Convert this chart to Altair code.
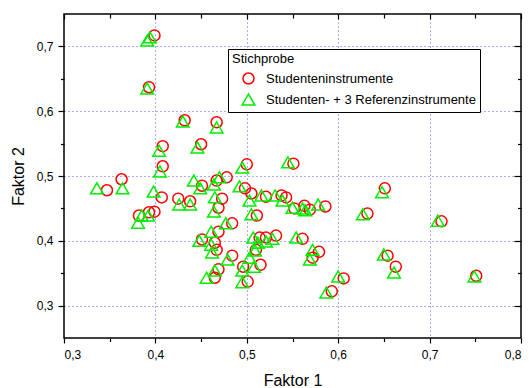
import altair as alt
import pandas as pd

series_names = ["Studenteninstrumente", "Studenten- + 3 Referenzinstrumente"]
series_colors = ["#ff0000", "#00ee00"]
series_shapes = ["circle", "triangle-up"]

circ_x = [0.399, 0.393, 0.432, 0.467, 0.408, 0.450, 0.500, 0.551, 0.408, 0.363,
          0.347, 0.407, 0.425, 0.438, 0.382, 0.393, 0.399, 0.478, 0.467, 0.451,
          0.498, 0.505, 0.521, 0.538, 0.543, 0.473, 0.469, 0.552, 0.563, 0.569,
          0.586, 0.651, 0.632, 0.713, 0.511, 0.484, 0.469, 0.451, 0.465, 0.467,
          0.484, 0.469, 0.465, 0.514, 0.521, 0.532, 0.561, 0.579, 0.572, 0.510,
          0.515, 0.496, 0.501, 0.654, 0.663, 0.606, 0.593, 0.751]
circ_y = [0.717, 0.637, 0.586, 0.583, 0.546, 0.549, 0.518, 0.519, 0.515, 0.495,
          0.478, 0.467, 0.465, 0.461, 0.439, 0.444, 0.445, 0.498, 0.493, 0.485,
          0.481, 0.473, 0.468, 0.470, 0.467, 0.465, 0.451, 0.450, 0.454, 0.448,
          0.453, 0.481, 0.442, 0.430, 0.439, 0.427, 0.414, 0.402, 0.397, 0.386,
          0.377, 0.356, 0.343, 0.405, 0.405, 0.408, 0.403, 0.383, 0.374, 0.386,
          0.363, 0.360, 0.337, 0.377, 0.360, 0.342, 0.322, 0.346]

tri_x = [0.391, 0.394, 0.391, 0.430, 0.467, 0.404, 0.446, 0.495, 0.545, 0.405,
         0.364, 0.336, 0.398, 0.426, 0.438, 0.385, 0.392, 0.381, 0.470, 0.464,
         0.442, 0.449, 0.492, 0.503, 0.516, 0.531, 0.539, 0.465, 0.464, 0.550,
         0.561, 0.564, 0.578, 0.648, 0.627, 0.709, 0.505, 0.477, 0.461, 0.448,
         0.461, 0.462, 0.479, 0.465, 0.456, 0.507, 0.512, 0.521, 0.528, 0.554,
         0.572, 0.569, 0.509, 0.503, 0.508, 0.495, 0.495, 0.650, 0.661, 0.600,
         0.587, 0.749]
tri_y = [0.709, 0.714, 0.635, 0.584, 0.575, 0.539, 0.544, 0.513, 0.521, 0.507,
         0.481, 0.481, 0.476, 0.456, 0.456, 0.439, 0.439, 0.428, 0.498, 0.487,
         0.493, 0.481, 0.484, 0.462, 0.470, 0.470, 0.462, 0.467, 0.445, 0.451,
         0.450, 0.447, 0.456, 0.475, 0.441, 0.431, 0.441, 0.427, 0.414, 0.400,
         0.394, 0.382, 0.371, 0.354, 0.343, 0.405, 0.397, 0.399, 0.403, 0.405,
         0.386, 0.371, 0.385, 0.374, 0.360, 0.354, 0.336, 0.379, 0.351, 0.345,
         0.320, 0.345]

x_major = [0.3, 0.4, 0.5, 0.6, 0.7, 0.8]
x_minor = [0.35, 0.45, 0.55, 0.65, 0.75]
x_grid = [0.4, 0.5, 0.6, 0.7]
y_major = [0.3, 0.4, 0.5, 0.6, 0.7]
y_minor = [0.35, 0.45, 0.55, 0.65]
y_grid = [0.3, 0.4, 0.5, 0.6, 0.7]

df = pd.concat([
    pd.DataFrame({"x": circ_x, "y": circ_y, "series": series_names[0]}),
    pd.DataFrame({"x": tri_x, "y": tri_y, "series": series_names[1]}),
], ignore_index=True)

xs = alt.Scale(domain=[0.3, 0.8], nice=False, zero=False)
ys = alt.Scale(domain=[0.25, 0.75], nice=False, zero=False)
comma = "replace(format(datum.value, '.1f'), '.', ',')"

W, H = 457, 324


def ax(**kw):
    base = dict(domain=False, grid=False, labels=False, title=None,
                tickColor="black", tickWidth=1.2)
    base.update(kw)
    return alt.Axis(**base)


def layer(xaxis, yaxis):
    return alt.Chart(df).mark_point(opacity=0).encode(
        x=alt.X("x:Q", scale=xs, axis=xaxis),
        y=alt.Y("y:Q", scale=ys, axis=yaxis),
    )


grid_layer = layer(
    ax(orient="bottom", values=x_grid, ticks=False, grid=True,
       gridColor="#2020ff", gridDash=[1, 3], gridWidth=1, gridOpacity=0.75),
    ax(orient="left", values=y_grid, ticks=False, grid=True,
       gridColor="#2020ff", gridDash=[1, 3], gridWidth=1, gridOpacity=0.75),
)

leg = alt.Legend(
    title="Stichprobe", orient="none", legendX=164, legendY=35,
    fillColor="white", strokeColor="black", padding=4,
    titleFontSize=13, titleFontWeight="normal", titleColor="black",
    labelFontSize=13, labelColor="black", labelLimit=400, symbolSize=130,
    symbolStrokeWidth=1.5, symbolOffset=9, labelOffset=10,
    rowPadding=4, titlePadding=6,
    labelExpr="datum.label + '    '",
)

points = alt.Chart(df).mark_point(filled=False, strokeWidth=1.5, opacity=1).encode(
    x=alt.X("x:Q", scale=xs, axis=ax(
        orient="bottom", values=x_major, labels=True, labelExpr=comma,
        tickSize=5, labelPadding=6, labelFontSize=12, labelColor="black",
        title="Faktor 1", titleFontSize=16, titleFontWeight="normal",
        titleColor="black", titleY=42, titleX=W / 2, titleAlign="center",
        titleBaseline="middle")),
    y=alt.Y("y:Q", scale=ys, axis=ax(
        orient="left", values=y_major, labels=True, labelExpr=comma,
        tickSize=6, labelPadding=5, labelFontSize=12, labelColor="black",
        title="Faktor 2", titleFontSize=16, titleFontWeight="normal",
        titleColor="black", titleX=-46, titleY=H / 2, titleAngle=270,
        titleAlign="center", titleBaseline="middle")),
    color=alt.Color("series:N", scale=alt.Scale(domain=series_names, range=series_colors), legend=leg),
    shape=alt.Shape("series:N", scale=alt.Scale(domain=series_names, range=series_shapes), legend=leg),
    size=alt.Size("series:N", scale=alt.Scale(domain=series_names, range=[121, 160]), legend=None),
)

minor_layer = layer(
    ax(orient="bottom", values=x_minor, tickSize=3.5),
    ax(orient="left", values=y_minor, tickSize=3.5),
)
top_right_major = layer(
    ax(orient="top", values=x_major, tickSize=5, offset=-5),
    ax(orient="right", values=y_major, tickSize=7, offset=-7),
)
top_right_minor = layer(
    ax(orient="top", values=x_minor, tickSize=4, offset=-4),
    ax(orient="right", values=y_minor, tickSize=3.5, offset=-3.5),
)

chart = alt.layer(
    grid_layer, points, minor_layer, top_right_major, top_right_minor
).resolve_axis(
    x="independent", y="independent"
).properties(
    width=W, height=H,
    padding={"left": 64, "top": 14, "right": 8, "bottom": 50},
    autosize=alt.AutoSizeParams(type="none"),
).configure(
    font="Liberation Sans"
).configure_view(
    stroke="black", strokeWidth=1.5
)

chart.save("out.html", embed_options={"renderer": "svg", "actions": False})
